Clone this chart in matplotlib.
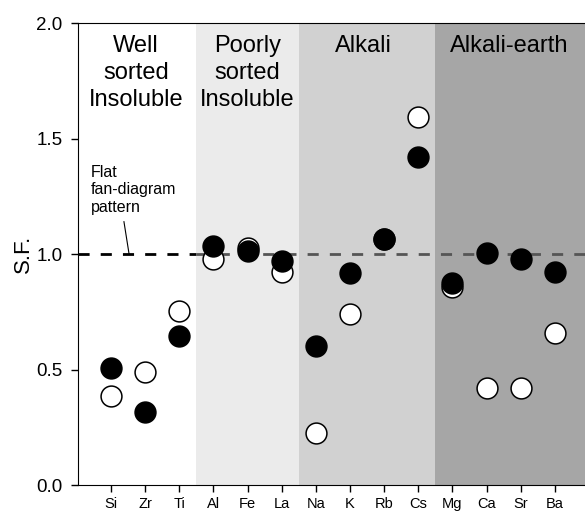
import matplotlib
matplotlib.use('Agg')
import matplotlib.pyplot as plt

plt.rcParams['font.family'] = ['Liberation Sans', 'DejaVu Sans']

# elements and their scaling factors (open vs filled symbols)
elements = ['Si', 'Zr', 'Ti', 'Al', 'Fe', 'La', 'Na', 'K', 'Rb', 'Cs',
            'Mg', 'Ca', 'Sr', 'Ba']
sf_open = [0.385, 0.49, 0.753, 0.98, 1.026, 0.922, 0.225, 0.74, 1.065,
           1.593, 0.857, 0.42, 0.42, 0.658]
sf_filled = [0.506, 0.316, 0.645, 1.035, 1.013, 0.97, 0.60, 0.918, 1.065,
             1.42, 0.874, 1.004, 0.978, 0.922]

# element groups: (first index, last index, label, label x, shade)
groups = [(0, 2, 'Well\nsorted\nInsoluble', 0.73, '#ffffff'),
          (3, 5, 'Poorly\nsorted\nInsoluble', 4.0, '#ebebeb'),
          (6, 9, 'Alkali', 7.4, '#d1d1d1'),
          (10, 13, 'Alkali-earth', 11.65, '#a6a6a6')]

fig = plt.figure(figsize=(5.85, 5.12), dpi=100)
ax = fig.add_axes([0.1333, 0.0527, 0.8667, 0.9023])

xlo, xhi = -0.966, 13.88
x = list(range(len(elements)))

for g0, g1, label, lx, shade in groups:
    left = xlo if g0 == 0 else g0 - 0.5
    right = xhi if g1 == len(elements) - 1 else g1 + 0.5
    ax.axvspan(left, right, color=shade, zorder=0, lw=0)
    ax.text(lx, 1.95, label, ha='center', va='top', fontsize=17,
            linespacing=1.3)

# flat fan-diagram line
ax.plot([xlo, 2.5], [1.0, 1.0], color='black', ls=(0, (4, 4)), lw=2, zorder=1)
ax.plot([2.5, xhi], [1.0, 1.0], color='#555555', ls=(0, (4, 4)), lw=2, zorder=1)
ax.text(-0.6, 1.385, 'Flat\nfan-diagram\npattern', fontsize=11.5,
        ha='left', va='top', linespacing=1.2)
ax.plot([0.38, 0.53], [1.14, 1.0], color='black', lw=0.8, zorder=1)

ax.plot(x, sf_open, 'o', ms=15, mfc='white', mec='black', mew=1.1, zorder=3)
ax.plot(x, sf_filled, 'o', ms=15, mfc='black', mec='black', mew=1.1, zorder=4)

ax.set_xlim(xlo, xhi)
ax.set_ylim(0, 2.0)
ax.set_xticks(x)
ax.set_xticklabels(elements, fontsize=10.5)
ax.set_yticks([0.0, 0.5, 1.0, 1.5, 2.0])
ax.set_yticklabels(['0.0', '0.5', '1.0', '1.5', '2.0'], fontsize=13.5)
ax.tick_params(direction='out', length=5, width=1)
ax.tick_params(axis='y', pad=6)
ax.spines['right'].set_visible(False)
ax.set_ylabel('S.F.', fontsize=16, labelpad=2)

fig.savefig('out.png', dpi=100)
